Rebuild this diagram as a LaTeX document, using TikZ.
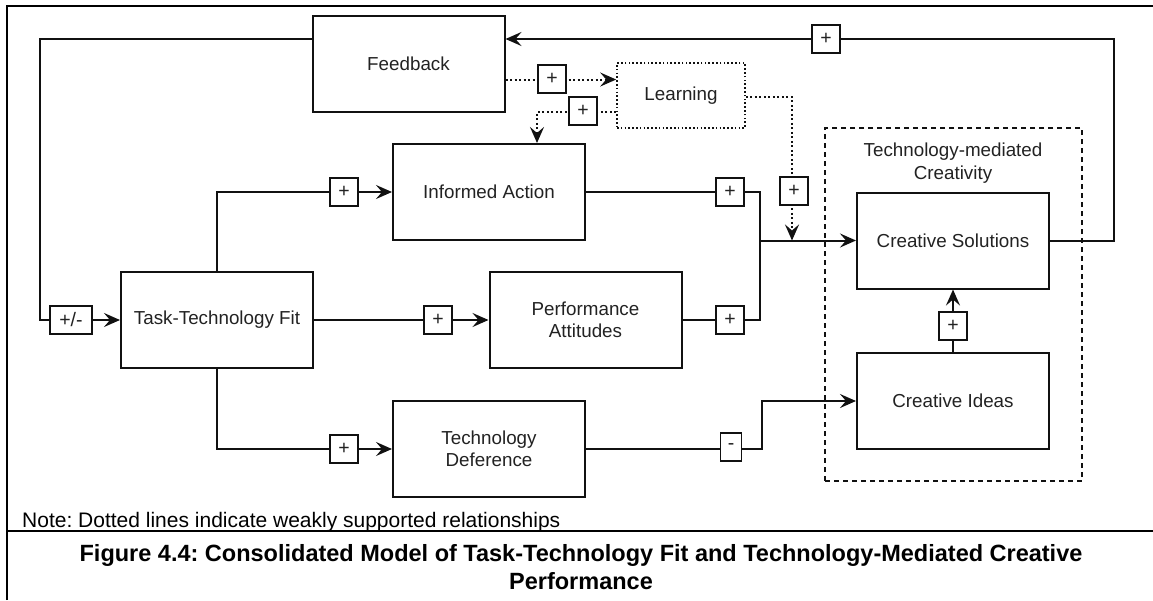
\documentclass[tikz,border=0pt]{standalone}
\usepackage{fontspec}
\setmainfont{Liberation Sans}
\usetikzlibrary{arrows.meta,calc}
\definecolor{ink}{HTML}{111111}
\definecolor{txt}{HTML}{222222}
\frenchspacing
\begin{document}
\begin{tikzpicture}[x=1pt,y=-1pt,
  block/.style={draw=ink, line width=2pt, minimum width=192pt, minimum height=96pt,
    inner sep=0pt, align=center, text=txt, font=\fontsize{18.8}{22.5}\selectfont},
  sign/.style={draw=ink, line width=1.8pt, fill=white, minimum width=28pt, minimum height=28pt,
    inner sep=0pt, text=txt, font=\fontsize{19.5}{20}\selectfont},
  flow/.style={draw=ink, line width=2pt},
  tip/.style={-{Stealth[length=16pt,width=14pt,inset=6pt]}},
  weak/.style={dash pattern=on 2pt off 2.5pt},
]
\useasboundingbox (0,0) rectangle (1153,600);

% outer frame and caption separator
\draw[line width=1.4pt, black] (7,600) -- (7,6) -- (1153,6);
\draw[line width=2.6pt, black] (7,6) -- (20,6);
\draw[line width=2.6pt, black] (1135,6) -- (1153,6);
\draw[line width=2pt, black] (7,531) -- (1153,531);

% construct boxes
\node[block] (fb) at (408.5,63.5) {Feedback};
\node[block, line width=1.6pt, dash pattern=on 1.6pt off 2.2pt, minimum width=128pt,
  minimum height=65pt] (learn) at (681,95.5) {Learning};
\node[block] (ia) at (489,192) {Informed Action};
\node[block] (ttf) at (217,320) {Task-Technology Fit};
\node[block] (pa) at (585.5,320) {Performance\\Attitudes};
\node[block] (td) at (489,449) {Technology\\Deference};
\node[block] (cs) at (953,240.5) {Creative Solutions};
\node[block] (ci) at (953,401) {Creative Ideas};

% dashed group around the creativity outcomes
\node[draw=ink, line width=1.8pt, dash pattern=on 5pt off 4pt, minimum width=257pt,
  minimum height=353pt, inner sep=0pt] (grp) at (953.5,304.5) {};
\node[align=center, text=txt, font=\fontsize{18.8}{23}\selectfont] (grpname) at (953,163)
  {Technology-mediated\\Creativity};

% helper points on box sides and bends
\coordinate (fbL) at ($(fb.north west)!0.25!(fb.south west)$);
\coordinate (fbR) at ($(fb.north east)!0.25!(fb.south east)$);
\coordinate (loop) at ($(ttf.west)+(-80,0)$);
\coordinate (rise) at ($(cs.east)+(64,0)$);
\coordinate (lnIn) at ($(learn.north west)!0.26!(learn.south west)$);
\coordinate (lnOut) at ($(learn.north west)!0.75!(learn.south west)$);
\coordinate (iaTop) at ($(ia.north)+(48,0)$);
\coordinate (join) at ($(cs.west)+(-96,0)$);
\coordinate (drop) at ($(cs.west)+(-64,0)$);
\coordinate (dbend) at ($(td.east)+(176,0)$);

% feedback loops
\draw[flow,tip] (fbL) -| (loop) -- (ttf.west);
\draw[flow,tip] (cs.east) -- (rise) |- (fbR);

% weakly supported (dotted) paths through learning
\draw[flow,weak,tip] (fb.east |- lnIn) -- (lnIn);
\draw[flow,weak,tip] (lnOut) -| (iaTop);
\draw[flow,weak,tip] ([yshift=-1.5pt]learn.east) -| (drop);

% main paths
\draw[flow,tip] (ttf.north) |- (ia.west);
\draw[flow,tip] (ttf.east) -- (pa.west);
\draw[flow,tip] (ttf.south) |- (td.west);
\draw[flow] (ia.east) -| (join);
\draw[flow] (pa.east) -| (join);
\draw[flow,tip] (join) -- (cs.west);
\draw[flow,tip] (td.east) -- (dbend) |- (ci.west);
\draw[flow,tip] (ci.north) -- (cs.south);

% relationship signs
\node[sign, minimum width=42pt] (s1) at (71,320) {+/-};
\node[sign] (s2) at (826,39) {+};
\node[sign] (s3) at (552,79) {+};
\node[sign] (s4) at (583,111) {+};
\node[sign] (s5) at (794,191) {+};
\node[sign] (s6) at (344,192) {+};
\node[sign] (s7) at (438,320) {+};
\node[sign] (s8) at (344,449) {+};
\node[sign] (s9) at (730,192) {+};
\node[sign] (s10) at (730,320) {+};
\node[sign, minimum width=21pt] (s11) at (731,447) {-};
\node[sign] (s12) at (953,326) {+};

% note and caption
\node[anchor=base west, inner sep=0pt, font=\fontsize{21}{24}\selectfont] (note) at (22,527)
  {Note: Dotted lines indicate weakly supported relationships};
\node[anchor=base, inner sep=0pt, font=\bfseries\fontsize{23.5}{28}\selectfont] (cap1) at (581,561)
  {Figure 4.4: Consolidated Model of Task-Technology Fit and Technology-Mediated Creative};
\node[anchor=base, inner sep=0pt, font=\bfseries\fontsize{23.5}{28}\selectfont] (cap2) at (581,589)
  {Performance};
\end{tikzpicture}
\end{document}
